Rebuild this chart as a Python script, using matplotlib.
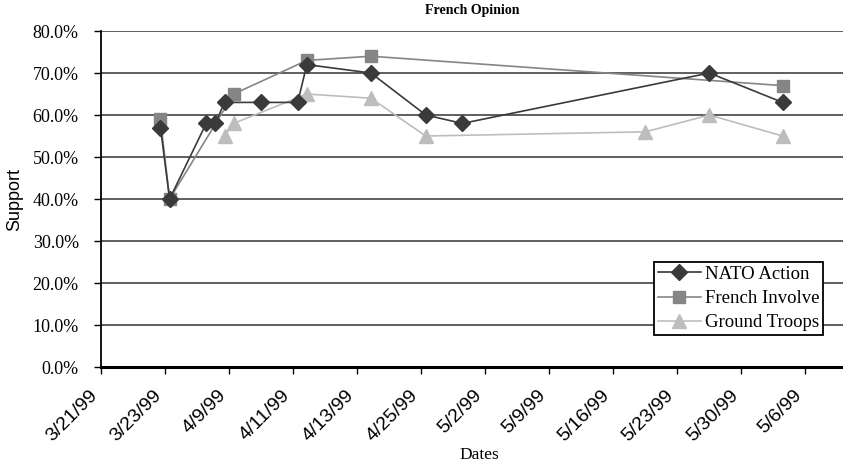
import numpy as np
import matplotlib
matplotlib.use("Agg")
import matplotlib.pyplot as plt
from matplotlib.ticker import FuncFormatter

# days counted from 3/21/99
tick_days = [0, 7, 14, 21, 28, 35, 42, 49, 56, 63, 70, 77]
tick_labels = ["3/21/99", "3/23/99", "4/9/99", "4/11/99", "4/13/99", "4/25/99",
               "5/2/99", "5/9/99", "5/16/99", "5/23/99", "5/30/99", "5/6/99"]

nato_days = [6.5, 7.5, 11.5, 12.5, 13.5, 17.5, 21.5, 22.5, 29.5, 35.5, 39.5, 66.5, 74.5]
nato = [57, 40, 58, 58, 63, 63, 63, 72, 70, 60, 58, 70, 63]

french_days = [6.5, 7.5, 14.5, 22.5, 29.5, 74.5]
french = [59, 40, 65, 73, 74, 67]

ground_days = [13.5, 14.5, 22.5, 29.5, 35.5, 59.5, 66.5, 74.5]
ground = [55, 58, 65, 64, 55, 56, 60, 55]

serif = "Liberation Serif"
sans = "Liberation Sans"

fig = plt.figure(figsize=(8.43, 4.67), dpi=100)
ax = fig.add_axes([0.1198, 0.2141, 0.8802, 0.7195])

ax.plot(nato_days, np.array(nato) / 100, color="#3a3a3a", lw=1.2, marker="D",
        ms=8, label="NATO Action", zorder=5)
ax.plot(french_days, np.array(french) / 100, color="#858585", lw=1.2, marker="s",
        ms=8, label="French Involve", zorder=4)
ax.plot(ground_days, np.array(ground) / 100, color="#bdbdbd", lw=1.2, marker="^",
        ms=10, label="Ground Troops", zorder=3)

ax.set_ylim(0, 0.8)
ax.set_xlim(0, 81.1)
ax.set_yticks(np.arange(0, 0.81, 0.1))
ax.yaxis.set_major_formatter(FuncFormatter(lambda v, p: "{:.1%}".format(v)))
ax.set_xticks(tick_days)
ax.set_xticklabels(tick_labels, rotation=45, ha="right", va="top",
                   family=sans, fontsize=14)
for lab in ax.get_yticklabels():
    lab.set_family(serif)
    lab.set_fontsize(13)

ax.grid(axis="y", color="#333333", lw=1.1)
ax.set_axisbelow(True)
ax.spines["top"].set_visible(False)
ax.spines["right"].set_visible(False)
ax.spines["bottom"].set_linewidth(2.2)
ax.spines["left"].set_linewidth(1.3)
ax.tick_params(axis="both", direction="out", length=5, width=1, color="black")
ax.tick_params(axis="y", pad=11)
ax.tick_params(axis="x", pad=9)

ax.set_title("French Opinion", family=serif, fontweight="bold", fontsize=10, pad=12)
ax.set_xlabel("Dates", family=serif, fontsize=12.5)
ax.set_ylabel("Support", family=sans, fontsize=13)
ax.xaxis.set_label_coords(0.51, -0.238)
ax.yaxis.set_label_coords(-0.105, 0.5)

leg = ax.legend(loc="lower right", bbox_to_anchor=(0.973, 0.095), borderaxespad=0,
                prop={"family": serif, "size": 13.5}, fancybox=False, framealpha=1,
                edgecolor="black", handlelength=2.3, handletextpad=0.2,
                labelspacing=0.38, borderpad=0.2)
leg.get_frame().set_linewidth(1.3)

fig.savefig("out.png", dpi=100)
